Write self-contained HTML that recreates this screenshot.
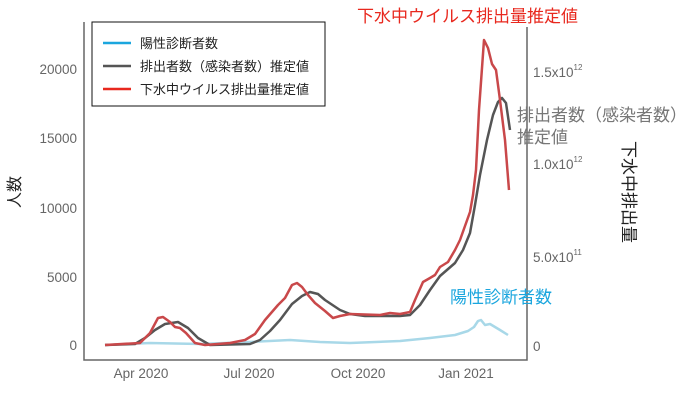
<!DOCTYPE html>
<html><head><meta charset="utf-8"><style>
html,body{margin:0;padding:0;background:#fff;}
svg{display:block;font-family:"Liberation Sans","Noto Sans CJK JP",sans-serif;}
</style></head><body>
<svg width="700" height="416" viewBox="0 0 700 416" xmlns="http://www.w3.org/2000/svg">
<rect width="700" height="416" fill="#fff"/>
<polyline points="84,22 84,360 527,360 527,27" fill="none" stroke="#666" stroke-width="1.5"/>
<g font-size="13.5" fill="#666" text-anchor="end">
<text x="77" y="350">0</text>
<text x="77" y="282">5000</text>
<text x="77" y="213">10000</text>
<text x="77" y="143">15000</text>
<text x="77" y="74">20000</text>
</g>
<g font-size="13.5" fill="#666">
<text x="533" y="351">0</text>
<text x="533" y="262">5.0x10<tspan font-size="8" dy="-7">11</tspan></text>
<text x="533" y="169">1.0x10<tspan font-size="8" dy="-7">12</tspan></text>
<text x="533" y="77">1.5x10<tspan font-size="8" dy="-7">12</tspan></text>
</g>
<g font-size="13.5" fill="#666" text-anchor="middle">
<text x="141" y="378">Apr 2020</text>
<text x="249" y="378">Jul 2020</text>
<text x="358" y="378">Oct 2020</text>
<text x="466" y="378">Jan 2021</text>
</g>
<text transform="translate(20,192) rotate(-90)" font-size="16" fill="#222" text-anchor="middle">人数</text>
<text transform="translate(623,192) rotate(90)" font-size="17" fill="#222" text-anchor="middle">下水中排出量</text>
<polyline fill="none" stroke="#a8d8e8" stroke-width="2.5" stroke-linejoin="round" points="105,345 150,343 200,344 250,342 290,340 320,342 350,343 400,341 430,338 455,335 468,331 474,327 478,321 481,320 485,325 490,324 500,330 508,335"/>
<polyline fill="none" stroke="#555" stroke-width="2.5" stroke-linejoin="round" points="105,345 135,344 145,338 155,330 165,324 178,322 188,328 198,338 210,345 250,344 260,340 270,331 280,320 292,304 302,296 310,292 318,294 325,300 340,310 350,314 365,316 400,316 410,315 420,305 430,290 440,276 455,263 463,250 470,233 475,205 480,175 487,140 493,115 498,102 502,98 506,103 510,130"/>
<polyline fill="none" stroke="#c9484a" stroke-width="2.5" stroke-linejoin="round" points="105,345 140,343 150,333 158,318 163,317 170,322 175,327 180,328 186,333 195,343 205,345 230,343 245,340 255,334 265,320 278,305 285,298 292,285 297,283 302,287 308,295 315,303 325,311 333,318 340,316 350,314 380,315 390,313 400,314 410,312 415,300 423,282 430,278 435,275 440,267 448,262 455,250 460,240 465,226 470,212 473,195 476,170 479,110 484,40 488,48 492,64 496,70 500,100 505,140 509,190"/>
<text x="357" y="22" font-size="17" fill="#e8281e">下水中ウイルス排出量推定値</text>
<text x="517" y="121" font-size="17" fill="#777">排出者数（感染者数）</text>
<text x="517" y="143" font-size="17" fill="#777">推定値</text>
<text x="450" y="303" font-size="17" fill="#1ba6de">陽性診断者数</text>
<rect x="92" y="22" width="233" height="84" fill="#fff" stroke="#111" stroke-width="1"/>
<g stroke-width="2.5">
<line x1="103" y1="43" x2="131" y2="43" stroke="#1ba6de"/>
<line x1="103" y1="66" x2="131" y2="66" stroke="#555"/>
<line x1="103" y1="89" x2="131" y2="89" stroke="#e8281e"/>
</g>
<g font-size="13" fill="#222">
<text x="140" y="48">陽性診断者数</text>
<text x="140" y="71">排出者数（感染者数）推定値</text>
<text x="140" y="94">下水中ウイルス排出量推定値</text>
</g>
</svg>
</body></html>
